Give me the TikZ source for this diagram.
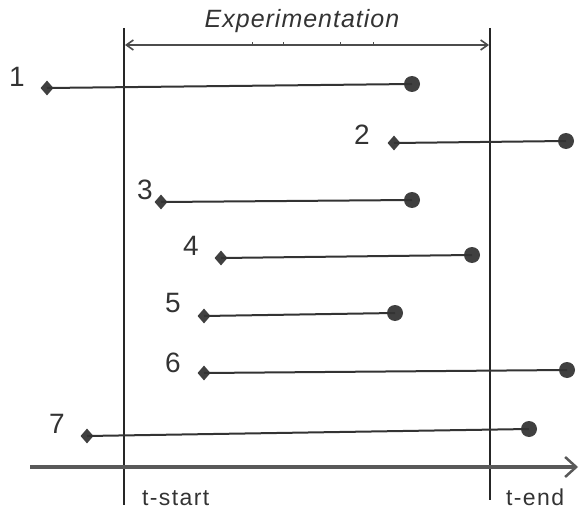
\documentclass[tikz,border=0pt]{standalone}
\usepackage{fontspec}
\setmainfont{Liberation Sans}
\usetikzlibrary{arrows.meta,shapes.geometric}
\begin{document}
\begin{tikzpicture}[x=1pt,y=-1pt,
 dia/.style={diamond,fill=black!75,inner sep=0pt,minimum width=13pt,minimum height=15pt},
 dot/.style={circle,fill=black!75,inner sep=0pt,minimum size=16pt},
 seg/.style={line width=2pt,draw=black!80},
 num/.style={font=\fontsize{28}{28}\selectfont,text=black!80,inner sep=0pt},
 lab/.style={font=\fontsize{23}{23}\selectfont\addfontfeatures{LetterSpace=6},text=black!80,inner sep=0pt,anchor=base west},
 vline/.style={line width=1.5pt,draw=black!85},
 tick/.style={line width=0.8pt,draw=black!70}]
\useasboundingbox (0,0) rectangle (579,511);

% boundaries
\coordinate (vs1) at (124,28); \coordinate (vs2) at (124,505);
\coordinate (ve1) at (490,28); \coordinate (ve2) at (490,500);
\draw[vline] (vs1) -- (vs2);
\draw[vline] (ve1) -- (ve2);

% experimentation arrow
\coordinate (as) at (125,45); \coordinate (ae) at (489,45);
\draw[line width=1.6pt,draw=black!70,{Straight Barb[length=7pt,width=10pt]}-{Straight Barb[length=7pt,width=10pt]}] (as) -- (ae);
\node[font=\fontsize{25}{25}\selectfont\itshape\addfontfeatures{LetterSpace=4},text=black!80,inner sep=0pt] (exp) at (302,21) {Experimentation};
\foreach \x in {252,283,340,373}{\draw[tick] (\x,45) -- (\x,42);}

% time axis
\coordinate (x0) at (30,467); \coordinate (x1) at (578,467);
\draw[line width=4pt,draw=black!65,-{Straight Barb[length=11pt,width=20pt,line width=2.5pt]}] (x0) -- (x1);
\node[lab] (ts) at (142,505) {t-start};
\node[lab] (te) at (506,505) {t-end};

% intervals
\foreach \i/\lx/\ly/\ax/\ay/\bx/\by in {
 1/17/77/47/88/412/84,
 2/362/135/394/143/566/141,
 3/145/190/161/202/412/200,
 4/191/246/221/258/472/255,
 5/173/303/204/316/395/313,
 6/173/363/204/373/567/370,
 7/57/424/87/436/529/429}{
 \node[num] (l\i) at (\lx,\ly) {\i};
 \node[dia] (d\i) at (\ax,\ay) {};
 \node[dot] (e\i) at (\bx,\by) {};
 \draw[seg] (d\i.center) -- (e\i.center);
}
\end{tikzpicture}
\end{document}
